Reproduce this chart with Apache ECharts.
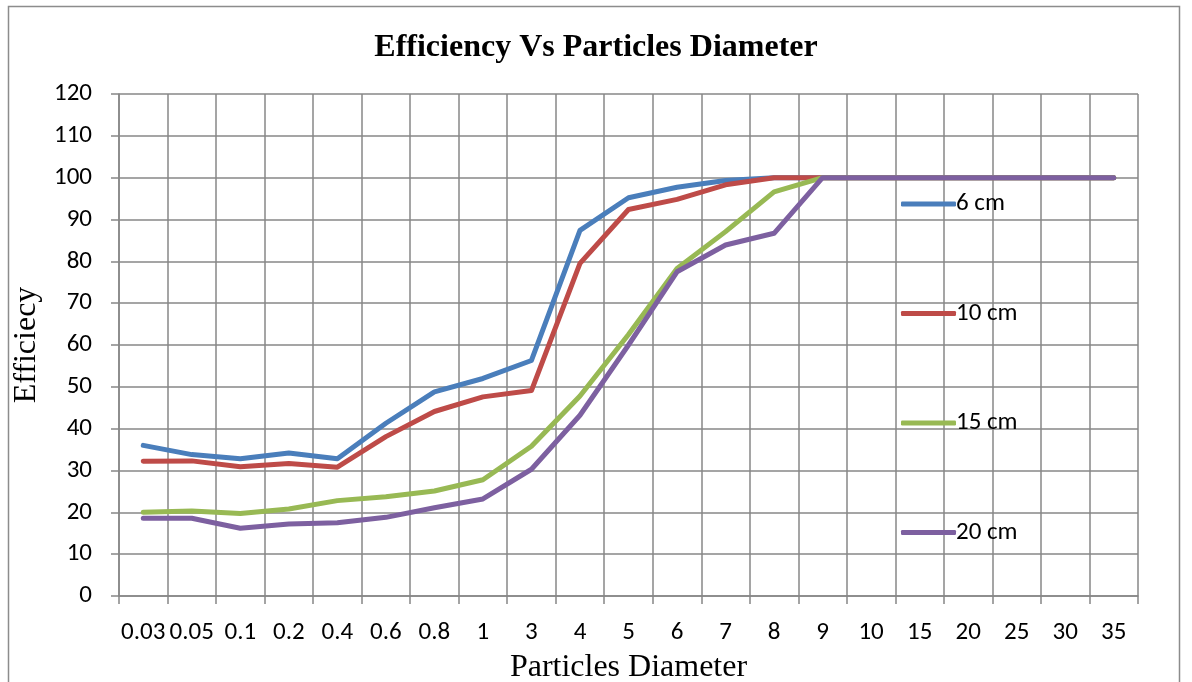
<!DOCTYPE html>
<html>
<head>
<meta charset="utf-8">
<title>Efficiency Vs Particles Diameter</title>
<script src="https://cdn.jsdelivr.net/npm/echarts@6/dist/echarts.min.js"></script>
<style>
  html, body { margin: 0; padding: 0; background: #ffffff; }
  #chart { width: 1192px; height: 682px; }
</style>
</head>
<body>
<div id="chart"></div>
<script>
// Particle diameter categories
const diameters = ['0.03', '0.05', '0.1', '0.2', '0.4', '0.6', '0.8', '1', '3', '4', '5', '6', '7', '8', '9', '10', '15', '20', '25', '30', '35'];

// Collection efficiency (%) for each cyclone size
const eff6cm  = [36.0, 33.8, 32.8, 34.2, 32.8, 41.3, 48.8, 52.0, 56.3, 87.4, 95.2, 97.7, 99.3, 100, 100, 100, 100, 100, 100, 100, 100];
const eff10cm = [32.2, 32.3, 30.9, 31.7, 30.8, 38.1, 44.1, 47.6, 49.1, 79.5, 92.4, 94.8, 98.3, 100, 100, 100, 100, 100, 100, 100, 100];
const eff15cm = [20.0, 20.3, 19.7, 20.8, 22.8, 23.7, 25.1, 27.8, 35.8, 47.8, 62.5, 78.3, 87.1, 96.6, 100, 100, 100, 100, 100, 100, 100];
const eff20cm = [18.6, 18.6, 16.2, 17.2, 17.5, 18.8, 21.1, 23.2, 30.3, 43.2, 60.0, 77.5, 83.9, 86.7, 100, 100, 100, 100, 100, 100, 100];

const seriesNames = ['6 cm', '10 cm', '15 cm', '20 cm'];
const yTicks = [0, 120, 10];

const colors = ['#4a7ebb', '#be4b48', '#98b954', '#7d60a0'];
const gridColor = '#878787';
const sans = 'Carlito, Lato, "Liberation Sans", sans-serif';
const serif = '"Liberation Serif", "DejaVu Serif", serif';

const chart = echarts.init(document.getElementById('chart'), null, { renderer: 'canvas' });

const mkSeries = (name, data, color) => ({
  name: name,
  type: 'line',
  data: data,
  symbol: 'none',
  smooth: false,
  lineStyle: { color: color, width: 5, cap: 'round', join: 'round' },
  itemStyle: { color: color },
  emphasis: { disabled: true },
  z: 3
});

chart.setOption({
  animation: false,
  backgroundColor: '#ffffff',
  color: colors,
  title: {
    text: 'Efficiency Vs Particles Diameter',
    left: 'center',
    top: 27,
    textStyle: { fontFamily: serif, fontWeight: 'bold', fontSize: 32, color: '#000' }
  },
  graphic: [{
    type: 'rect',
    shape: { x: 8.5, y: 6.5, width: 1171, height: 690 },
    style: { fill: 'none', stroke: '#8c8c8c', lineWidth: 1.5 },
    silent: true
  }],
  legend: {
    orient: 'vertical',
    left: 896,
    top: 186,
    itemGap: 83.5,
    itemWidth: 55,
    itemHeight: 5,
    icon: 'roundRect',
    selectedMode: false,
    textStyle: { fontFamily: sans, fontSize: 25, lineHeight: 26, height: 26, color: '#000', padding: [0, 0, 0, -5] },
    data: seriesNames
  },
  grid: { left: 119, right: 54, top: 94, bottom: 86, containLabel: false, outerBoundsMode: 'none' },
  xAxis: {
    type: 'category',
    data: diameters,
    boundaryGap: true,
    name: 'Particles Diameter',
    nameLocation: 'middle',
    nameGap: 56,
    nameTextStyle: { fontFamily: serif, fontSize: 32, color: '#000' },
    axisLine: { show: true, lineStyle: { color: gridColor, width: 1.5 } },
    axisTick: { show: true, interval: 0, length: 8, lineStyle: { color: gridColor, width: 1.5 } },
    axisLabel: { interval: 0, margin: 24, fontFamily: sans, fontSize: 25, color: '#000' },
    splitLine: { show: true, interval: 0, lineStyle: { color: gridColor, width: 1.5 } }
  },
  yAxis: {
    type: 'value',
    min: yTicks[0],
    max: yTicks[1],
    interval: yTicks[2],
    name: 'Efficiecy',
    nameLocation: 'middle',
    nameGap: 59,
    nameRotate: 90,
    nameTextStyle: { fontFamily: serif, fontSize: 32, color: '#000' },
    axisLine: { show: true, lineStyle: { color: gridColor, width: 1.5 } },
    axisTick: { show: true, length: 8, lineStyle: { color: gridColor, width: 1.5 } },
    axisLabel: { margin: 27, fontFamily: sans, fontSize: 25, color: '#000' },
    splitLine: { show: true, lineStyle: { color: gridColor, width: 1.5 } }
  },
  series: [
    mkSeries(seriesNames[0], eff6cm, colors[0]),
    mkSeries(seriesNames[1], eff10cm, colors[1]),
    mkSeries(seriesNames[2], eff15cm, colors[2]),
    mkSeries(seriesNames[3], eff20cm, colors[3])
  ]
});
</script>
</body>
</html>
